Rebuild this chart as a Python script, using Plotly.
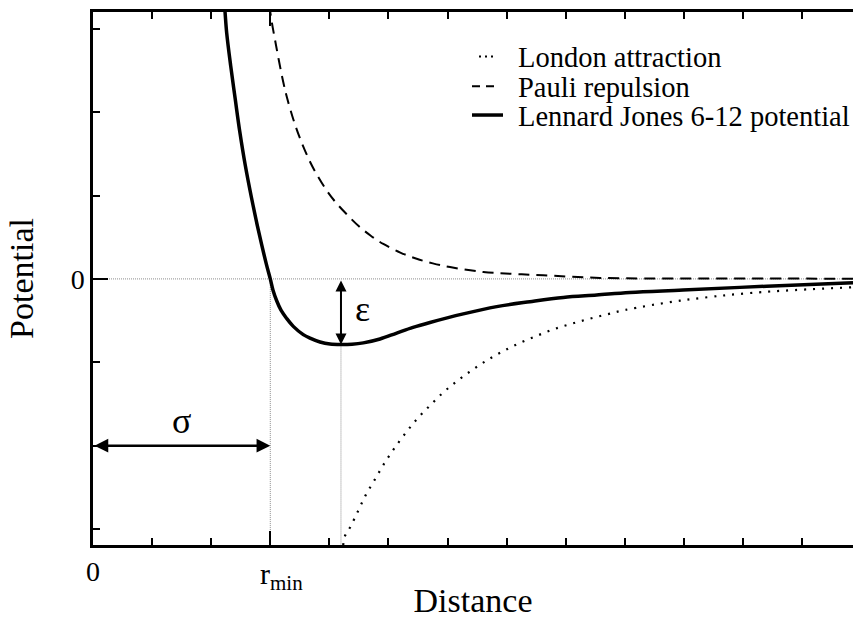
import plotly.graph_objects as go

# ---------------- data ----------------
lj_x = [2.205, 2.234, 2.262, 2.330, 2.406, 2.484, 2.575, 2.682, 2.800, 2.932, 3.000,
        3.046, 3.108, 3.181, 3.277, 3.389, 3.558, 3.672, 3.841, 4.010, 4.196, 4.382,
        4.574, 4.856, 5.139, 5.415, 5.702, 6.266, 6.831,
        7.394, 7.958, 8.523, 9.086, 9.983, 11.40, 12.86]
lj_y = [3.46, 3.203, 2.950, 2.554, 2.159, 1.764, 1.368, 0.973, 0.578, 0.181, 0.000,
        -0.135, -0.262, -0.375, -0.474, -0.569, -0.668, -0.710, -0.756, -0.781, -0.787, -0.783,
        -0.767, -0.720, -0.649, -0.581, -0.522, -0.419, -0.332,
        -0.273, -0.222, -0.193, -0.163, -0.134, -0.087, -0.047]

pauli_x = [2.97, 3.000, 3.100, 3.220, 3.288, 3.400, 3.503, 3.672, 3.785, 3.950, 4.100,
           4.293, 4.500, 4.700, 4.912, 5.200, 5.477, 5.750, 6.041, 6.604, 7.100, 7.619,
           8.579, 10.27, 12.86]
pauli_y = [3.50, 3.203, 2.790, 2.357, 2.159, 1.890, 1.684, 1.405, 1.255, 1.065, 0.924,
           0.775, 0.631, 0.518, 0.419, 0.316, 0.241, 0.186, 0.142, 0.083, 0.060, 0.044,
           0.012, 0.006, 0.003]

london_x = [4.22, 4.264, 4.349, 4.489, 4.619, 4.783, 4.941, 5.110, 5.296, 5.487, 5.702,
            5.927, 6.164, 6.418, 6.672, 6.942, 7.225, 7.518, 7.805, 8.100, 8.398, 8.709,
            9.014, 9.932, 11.17, 12.86]
london_y = [-3.30, -3.081, -2.981, -2.776, -2.586, -2.388, -2.198, -2.020, -1.842, -1.676, -1.518,
            -1.361, -1.222, -1.091, -0.973, -0.866, -0.767, -0.680, -0.601, -0.537, -0.478, -0.423,
            -0.371, -0.261, -0.166, -0.100]

series_names = ["London attraction", "Pauli repulsion", "Lennard Jones 6-12 potential"]

x_tick_vals = [0, 3]
x_tick_text = ["0", ""]            # the r_min label is drawn as an annotation next to its tick
r_min_label = "r<sub>min</sub>"
y_tick_vals = [0]
y_tick_text = ["0"]

sigma_x = 3.0          # zero crossing of the potential
min_x = 4.196          # position of the minimum
min_y = -0.787         # depth of the well (epsilon)
sigma_arrow_y = -2.0

X_RANGE = [0, 12.86]
Y_RANGE = [-3.19, 3.2]

FONT = "Liberation Serif"
GRAY = "#8c8c8c"

# pixel helpers for the hand-built legend (plot area: x 93..853, y 12..550)
def px(xp):
    return (xp - 93) / 760.0

def py(yp):
    return (550 - yp) / 538.0

fig = go.Figure()

fig.add_trace(go.Scatter(x=london_x, y=london_y, mode="lines", name=series_names[0],
                         line=dict(color="black", width=2.2, dash="2px,7px", shape="spline", smoothing=1.0),
                         showlegend=False, hoverinfo="skip"))
fig.add_trace(go.Scatter(x=pauli_x, y=pauli_y, mode="lines", name=series_names[1],
                         line=dict(color="black", width=2, dash="11px,7px", shape="spline", smoothing=1.0),
                         showlegend=False, hoverinfo="skip"))
fig.add_trace(go.Scatter(x=lj_x, y=lj_y, mode="lines", name=series_names[2],
                         line=dict(color="black", width=3.5, shape="spline", smoothing=1.0),
                         showlegend=False, hoverinfo="skip"))

shapes = [
    # zero reference line
    dict(type="line", xref="x", yref="y", x0=0, x1=X_RANGE[1], y0=0, y1=0,
         line=dict(color=GRAY, width=1, dash="1px,1px"), layer="below"),
    # vertical at sigma
    dict(type="line", xref="x", yref="y", x0=sigma_x, x1=sigma_x, y0=0, y1=Y_RANGE[0],
         line=dict(color=GRAY, width=1, dash="1px,1px"), layer="below"),
    # vertical at minimum
    dict(type="line", xref="x", yref="y", x0=min_x, x1=min_x, y0=min_y, y1=Y_RANGE[0],
         line=dict(color=GRAY, width=1, dash="1px,1px"), layer="below"),
]

# hand-built legend
legend_rows = [57, 87, 116]
legend_x0 = [479, 472, 472]
legend_x1 = [495, 494, 503]
legend_dash = ["2px,4px", "8px,6px", "solid"]
legend_width = [2, 2, 3.5]
annotations = []
for name, row, x0, x1, dash, w in zip(series_names, legend_rows, legend_x0, legend_x1,
                                       legend_dash, legend_width):
    shapes.append(dict(type="line", xref="paper", yref="paper",
                       x0=px(x0), x1=px(x1), y0=py(row), y1=py(row),
                       line=dict(color="black", width=w, dash=dash)))
    annotations.append(dict(xref="paper", yref="paper", x=px(516), y=py(row + 1),
                            xanchor="left", yanchor="middle", text=name, showarrow=False,
                            font=dict(family=FONT, size=28.5, color="black")))

# r_min tick label
annotations.append(dict(x=sigma_x, y=0, xref="x", yref="paper", text=r_min_label,
                        xanchor="left", yanchor="top", xshift=-12, yshift=-10, showarrow=False,
                        font=dict(family=FONT, size=30, color="black")))

# sigma arrow (double headed)
annotations.append(dict(x=sigma_x, y=sigma_arrow_y, ax=0, ay=sigma_arrow_y,
                        xref="x", yref="y", axref="x", ayref="y", text="",
                        showarrow=True, arrowhead=2, startarrowhead=2, arrowside="end+start",
                        arrowsize=1.1, startarrowsize=1.1, arrowwidth=2.5, arrowcolor="black",
                        standoff=0, startstandoff=0))
annotations.append(dict(x=1.5, y=-1.70, xref="x", yref="y", text="σ", showarrow=False,
                        font=dict(family=FONT, size=36, color="black")))
# epsilon arrow (double headed)
annotations.append(dict(x=min_x, y=min_y, ax=min_x, ay=0,
                        xref="x", yref="y", axref="x", ayref="y", text="",
                        showarrow=True, arrowhead=2, startarrowhead=2, arrowside="end+start",
                        arrowsize=1.1, startarrowsize=1.1, arrowwidth=2, arrowcolor="black",
                        standoff=0, startstandoff=0))
annotations.append(dict(x=4.56, y=-0.365, xref="x", yref="y", text="ε", showarrow=False,
                        font=dict(family=FONT, size=36, color="black")))

fig.update_layout(
    width=853, height=619,
    margin=dict(l=93, r=0, t=12, b=69),
    paper_bgcolor="white", plot_bgcolor="white",
    font=dict(family=FONT, color="black"),
    shapes=shapes, annotations=annotations,
    showlegend=False,
)

fig.update_xaxes(
    range=X_RANGE, showgrid=False, zeroline=False,
    showline=True, linecolor="black", linewidth=2.5, mirror="ticks",
    ticks="inside", ticklen=14, tickwidth=1.5, tickcolor="black",
    tickmode="array", tickvals=x_tick_vals, ticktext=x_tick_text,
    tickfont=dict(family=FONT, size=28, color="black"),
    minor=dict(ticks="inside", ticklen=7, tickwidth=1.5, tickcolor="black", dtick=1, tick0=0, showgrid=False),
    title=dict(text="Distance", font=dict(family=FONT, size=34, color="black"), standoff=8),
)
fig.update_yaxes(
    range=Y_RANGE, showgrid=False, zeroline=False,
    showline=True, linecolor="black", linewidth=2.5, mirror=False,
    ticks="inside", ticklen=15, tickwidth=1.5, tickcolor="black",
    tickmode="array", tickvals=y_tick_vals, ticktext=y_tick_text,
    tickfont=dict(family=FONT, size=28, color="black"),
    minor=dict(ticks="inside", ticklen=7, tickwidth=1.5, tickcolor="black", dtick=1, tick0=0, showgrid=False),
    title=dict(text="Potential", font=dict(family=FONT, size=34, color="black"), standoff=27),
)

fig.write_html("out.html")
